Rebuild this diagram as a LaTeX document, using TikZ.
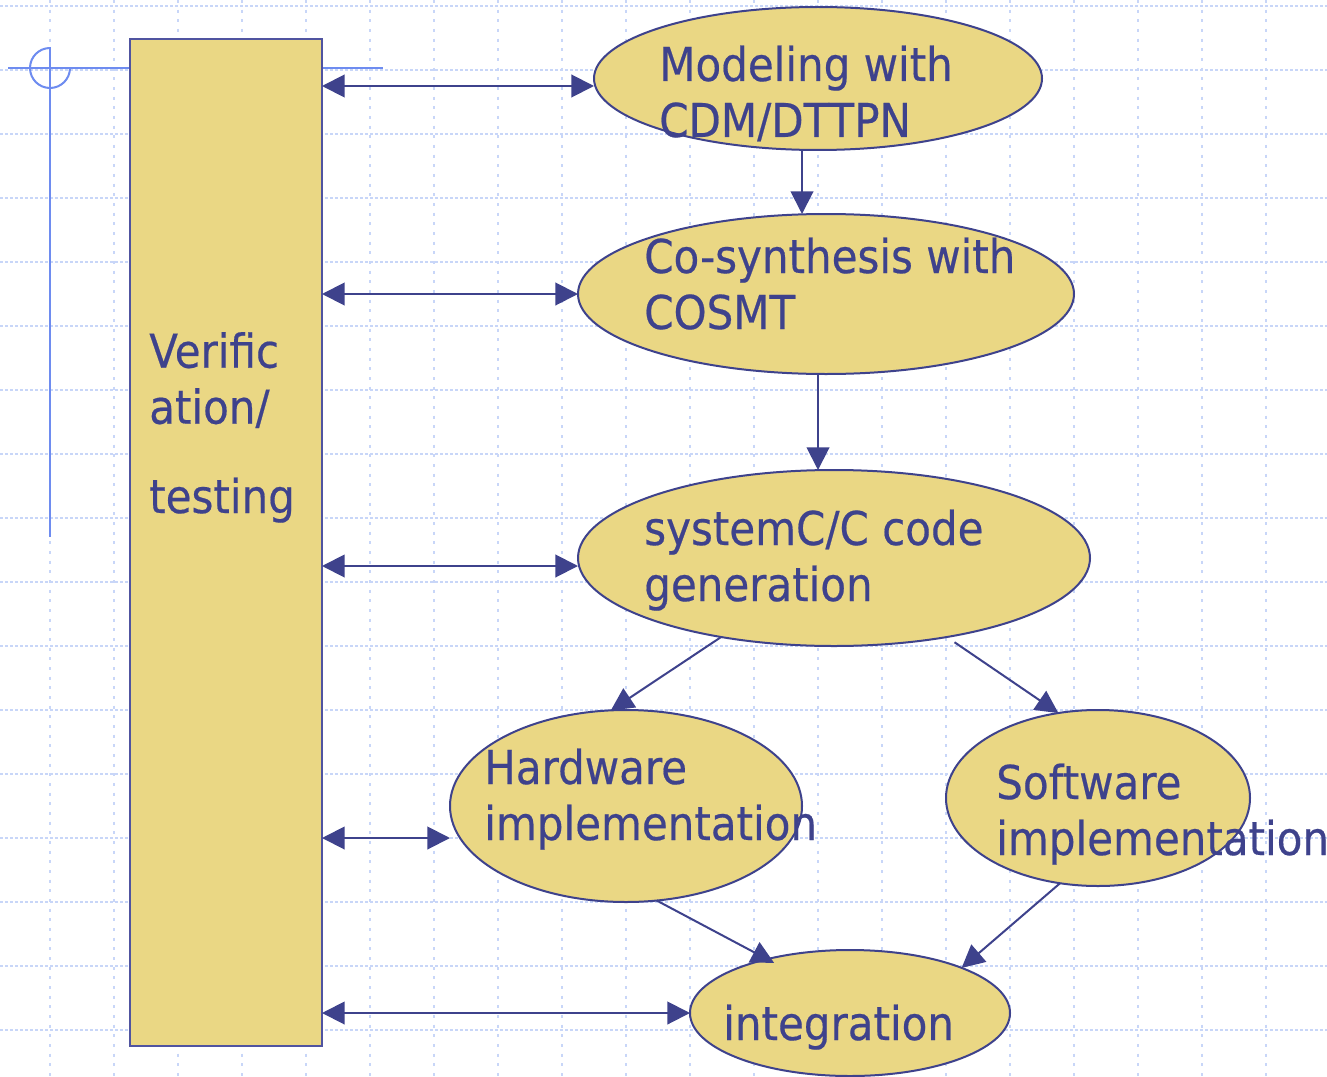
\documentclass[tikz,border=0pt]{standalone}
\usepackage{fontspec}
\setmainfont{DejaVu Sans}[FakeStretch=0.9,FakeBold=0.4]
\usetikzlibrary{arrows.meta,shapes.geometric}
\definecolor{navy}{RGB}{62,66,140}
\definecolor{rectline}{RGB}{80,84,160}
\definecolor{sand}{RGB}{234,215,132}
\definecolor{gridc}{RGB}{200,214,248}
\definecolor{deco}{RGB}{110,140,240}
\begin{document}
\begin{tikzpicture}[x=0.75pt,y=-0.75pt,
  blob/.style={ellipse, draw=navy, fill=sand, line width=1.5pt, inner sep=0pt, outer sep=0pt},
  lbl/.style={anchor=base west, align=left, text=navy, inner sep=0pt, font=\fontsize{35}{42}\selectfont},
  arr/.style={draw=navy, line width=1.5pt, -{Triangle[length=17pt,width=17pt]}},
  dbl/.style={draw=navy, line width=1.5pt, {Triangle[length=17pt,width=17pt]}-{Triangle[length=17pt,width=17pt]}},
  gridh/.style={draw=gridc, line width=1.2pt, dash pattern=on 2.25pt off 1.5pt},
  gridv/.style={draw=gridc, line width=1.2pt, dash pattern=on 2.25pt off 5pt},
  decoline/.style={draw=deco, line width=1.5pt}
]
\useasboundingbox (0,0) rectangle (1327,1077);
\fill[white] (0,0) rectangle (1327,1077);
% grid
\foreach \yy in {6,70,...,1030} \draw[gridh] (0,\yy) -- (1327,\yy);
\foreach \xx in {50,114,...,1266} \draw[gridv] (\xx,0) -- (\xx,1077);
% decoration
\draw[decoline] (8,68) -- (383,68);
\draw[decoline] (50,47) -- (50,537);
\draw[decoline] (50,48) arc[start angle=90, end angle=360, radius=15pt];
% verification bar
\node[draw=rectline, fill=sand, line width=1.8pt, minimum width=144pt, minimum height=755.25pt, inner sep=0pt, outer sep=0pt] (verif) at (226,542.5) {};
% ellipses
\node[blob, minimum width=336pt, minimum height=107.25pt] (model) at (818,78.5) {};
\node[blob, minimum width=372pt, minimum height=120pt] (cosyn) at (826,294) {};
\node[blob, minimum width=384pt, minimum height=132pt] (sysc) at (834,558) {};
\node[blob, minimum width=264pt, minimum height=144pt] (hw) at (626,806) {};
\node[blob, minimum width=228pt, minimum height=132pt] (sw) at (1098,798) {};
\node[blob, minimum width=240pt, minimum height=94.5pt] (integ) at (850,1013) {};
% connectors
\draw[dbl] (verif.east |- 0,86) -- (model.west |- 0,86);
\draw[dbl] (verif.east |- cosyn.west) -- (cosyn.west);
\draw[dbl] (verif.east |- 0,566) -- (sysc.west |- 0,566);
\draw[dbl] (verif.east |- 0,838) -- (hw.west |- 0,838);
\draw[dbl] (verif.east |- integ.west) -- (integ.west);
\draw[arr] (model.south -| 802,0) -- (cosyn.north -| 802,0);
\draw[arr] (cosyn.south -| 818,0) -- (sysc.north -| 818,0);
\draw[arr] (sysc.215) -- (hw.99.5);
\draw[arr, shorten <=7pt] (sysc.-35) -- (sw.115.5);
\draw[arr, shorten >=-6pt] (hw.-72) -- (integ.147);
\draw[arr] (sw.-114.4) -- (integ.22.6);
% texts (anchor at the baseline of the last line)
\node[lbl] (tmodel) at (659,137) {Modeling with\\CDM/DTTPN};
\node[lbl] (tcosyn) at (644,329) {Co-synthesis with\\COSMT};
\node[lbl] (tsysc) at (644,601) {systemC/C code\\generation};
\node[lbl] (thw) at (484,840) {Hardware\\implementation};
\node[lbl] (tsw) at (996,855) {Software\\implementation};
\node[lbl] (tint) at (723,1040) {integration};
\node[lbl] (tver) at (149,513) {Verific\\ation/\\[25pt]testing};
\end{tikzpicture}
\end{document}
